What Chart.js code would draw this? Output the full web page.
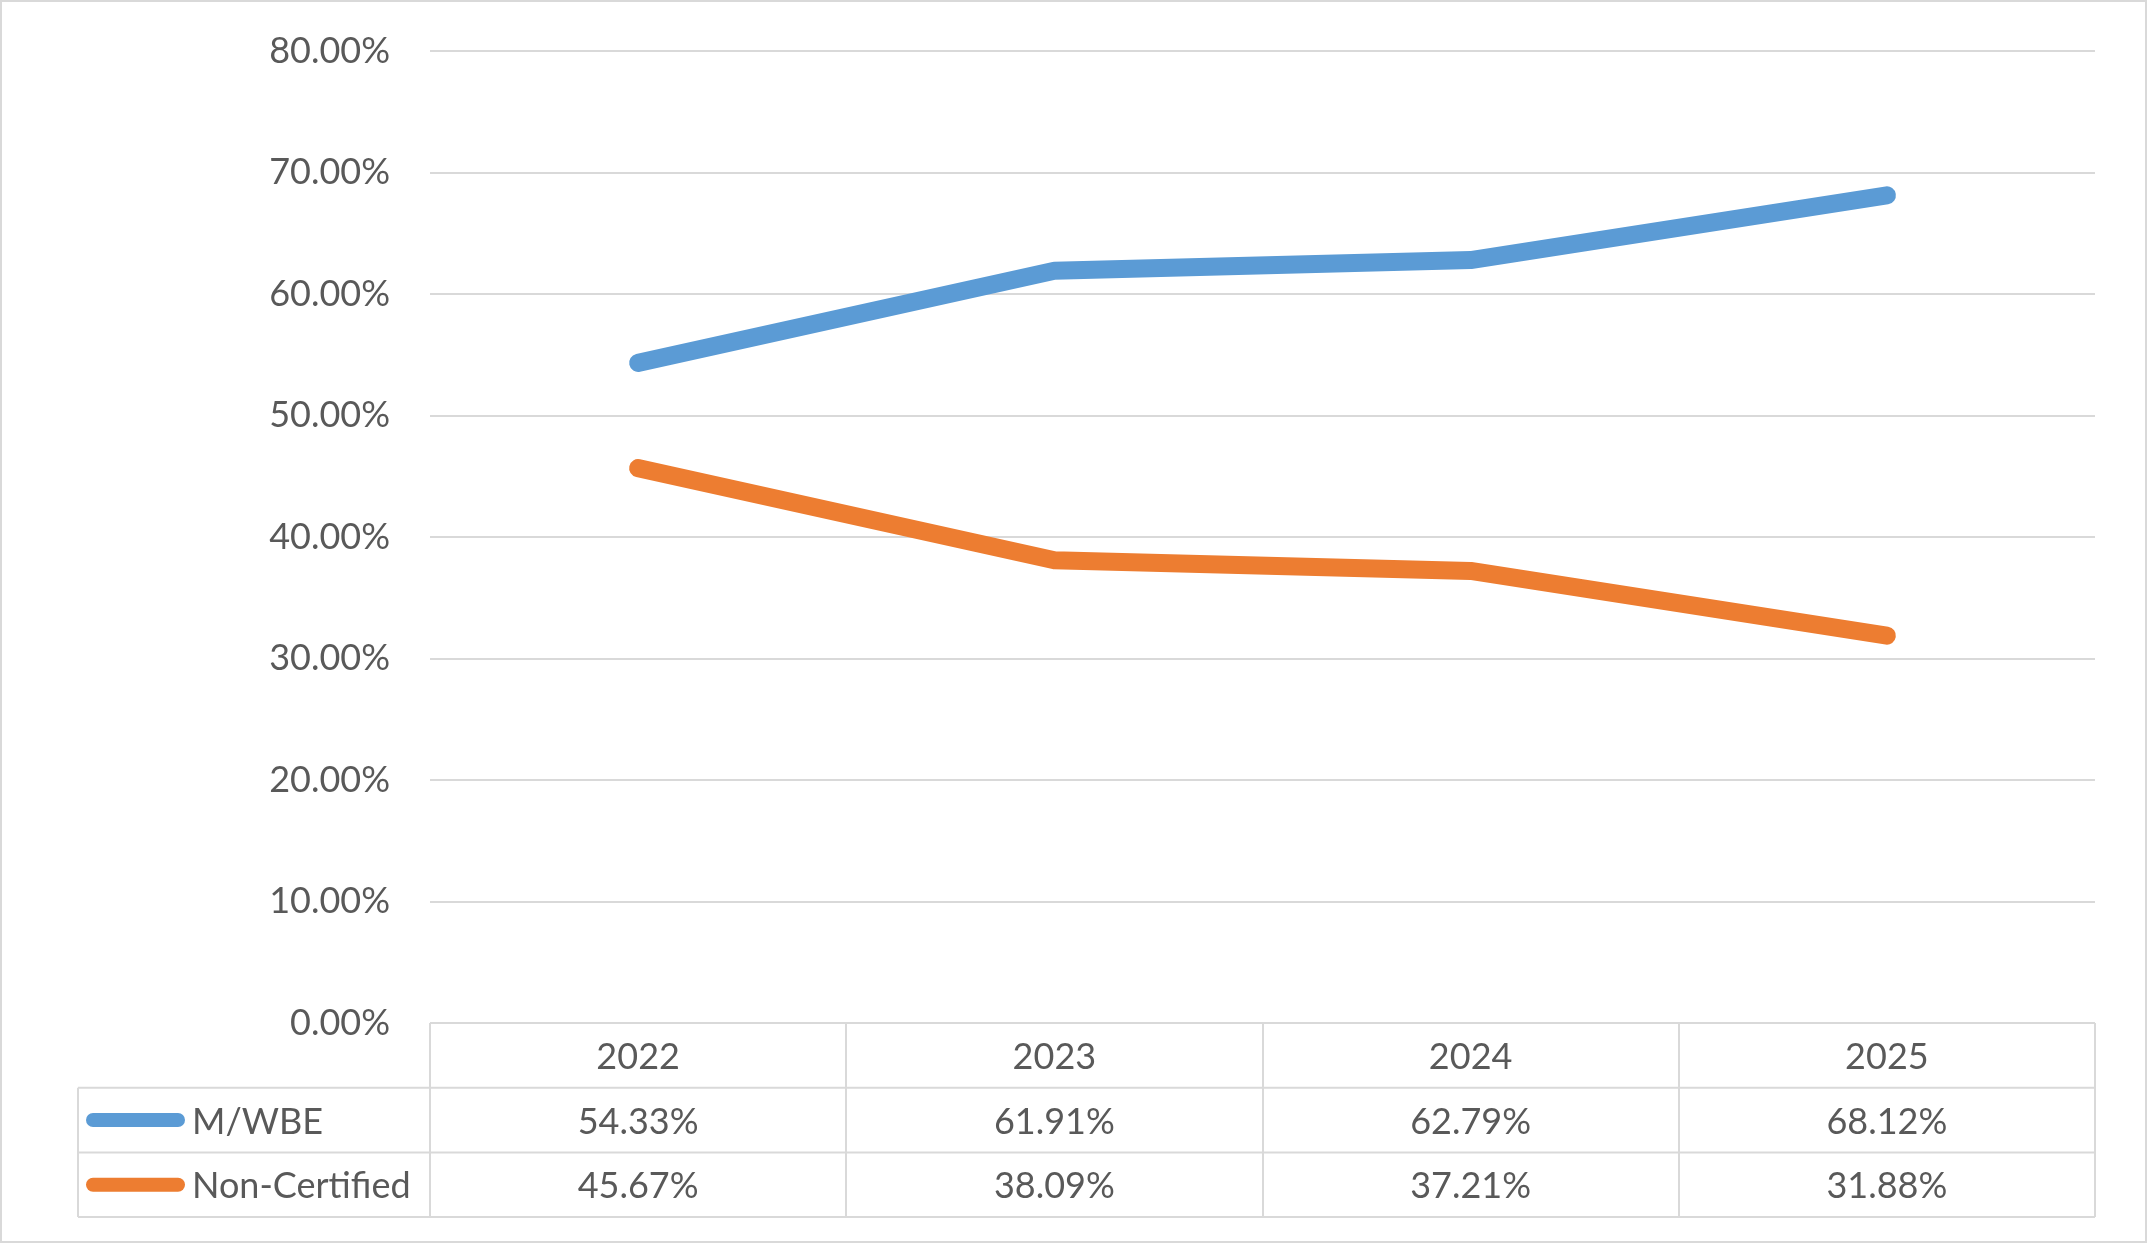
<!doctype html>
<html lang="en">
<head>
  <meta charset="utf-8" />
  <title>M/WBE vs Non-Certified</title>
  <script src="https://cdn.jsdelivr.net/npm/chart.js@4.4.1/dist/chart.umd.min.js"></script>
  <style>
    *{box-sizing:border-box;margin:0;padding:0}
    html,body{background:#fff;overflow:hidden}
    #wrap{width:2147px;height:1243px;position:relative}
  </style>
</head>
<body>
  <div id="wrap"><canvas id="c" width="2147" height="1243"></canvas></div>

  <script>
    /* ===== data ===== */
    const years = ['2022', '2023', '2024', '2025'];
    const mwbe = [54.33, 61.91, 62.79, 68.12];
    const nonCertified = [45.67, 38.09, 37.21, 31.88];
    const seriesNames = ['M/WBE', 'Non-Certified'];
    const seriesColors = ['#5B9BD5', '#ED7D31'];

    const FONT = 'Lato, "Open Sans", sans-serif';
    const TEXT = '#595959';
    const GRID = '#d9d9d9';

    /* ===== data table under the plot ===== */
    const dataTable = {
      id: 'dataTable',
      afterDraw(chart) {
        const ctx = chart.ctx;
        const xs = chart.scales.x;
        const area = chart.chartArea;
        const rowH = 64.7;
        const top = area.bottom;
        const legendLeft = 78;
        const step = (area.right - area.left) / years.length;
        const rows = [mwbe, nonCertified];

        ctx.save();
        ctx.strokeStyle = GRID;
        ctx.lineWidth = 2;
        ctx.beginPath();
        // header row lines
        ctx.moveTo(area.left, top); ctx.lineTo(area.right, top);
        for (let r = 1; r <= rows.length + 1; r++) {
          ctx.moveTo(legendLeft, top + rowH * r); ctx.lineTo(area.right, top + rowH * r);
        }
        // column lines
        for (let i = 0; i <= years.length; i++) {
          const x = Math.round(area.left + step * i);
          ctx.moveTo(x, top); ctx.lineTo(x, top + rowH * (rows.length + 1));
        }
        ctx.moveTo(legendLeft, top + rowH); ctx.lineTo(legendLeft, top + rowH * (rows.length + 1));
        ctx.stroke();

        ctx.fillStyle = TEXT;
        ctx.font = '36px ' + FONT;
        ctx.textBaseline = 'middle';
        ctx.textAlign = 'center';
        years.forEach((y, i) => {
          const cx = xs.getPixelForValue(i);
          ctx.fillText(y, cx, top + rowH * 0.5 + 2);
          rows.forEach((vals, r) => {
            ctx.fillText(vals[i].toFixed(2) + '%', cx, top + rowH * (r + 1.5) + 2);
          });
        });

        // legend keys
        ctx.textAlign = 'left';
        seriesNames.forEach((name, r) => {
          const cy = top + rowH * (r + 1.5);
          ctx.strokeStyle = seriesColors[r];
          ctx.lineWidth = 14;
          ctx.lineCap = 'round';
          ctx.beginPath();
          ctx.moveTo(93, cy); ctx.lineTo(178, cy);
          ctx.stroke();
          ctx.fillText(name, 192, cy + 2);
        });

        // outer frame
        ctx.strokeStyle = GRID;
        ctx.lineWidth = 2;
        ctx.lineCap = 'butt';
        ctx.strokeRect(1, 1, chart.width - 2, chart.height - 2);
        ctx.restore();
      }
    };

    /* ===== chart ===== */
    new Chart(document.getElementById('c'), {
      type: 'line',
      data: {
        labels: years,
        datasets: [
          { label: seriesNames[0], data: mwbe, borderColor: seriesColors[0] },
          { label: seriesNames[1], data: nonCertified, borderColor: seriesColors[1] }
        ]
      },
      options: {
        responsive: false,
        devicePixelRatio: 1,
        animation: false,
        layout: { padding: { left: 0, right: 52, top: 51, bottom: 220 } },
        elements: {
          line: { borderWidth: 18, borderCapStyle: 'round', borderJoinStyle: 'round', tension: 0 },
          point: { radius: 0, hoverRadius: 0 }
        },
        plugins: { legend: { display: false }, tooltip: { enabled: false } },
        scales: {
          x: { display: false, offset: true },
          y: {
            min: 0, max: 80,
            afterFit(scale) {
              scale.width = 430;
              scale.paddingTop = 0;
              scale.paddingBottom = 0;
            },
            border: { display: false },
            grid: { color: GRID, lineWidth: 2, drawTicks: false },
            ticks: {
              stepSize: 10,
              padding: 40,
              color: TEXT,
              font: { family: FONT, size: 36 },
              callback: v => v.toFixed(2) + '%'
            }
          }
        }
      },
      plugins: [dataTable]
    });
  </script>
</body>
</html>
